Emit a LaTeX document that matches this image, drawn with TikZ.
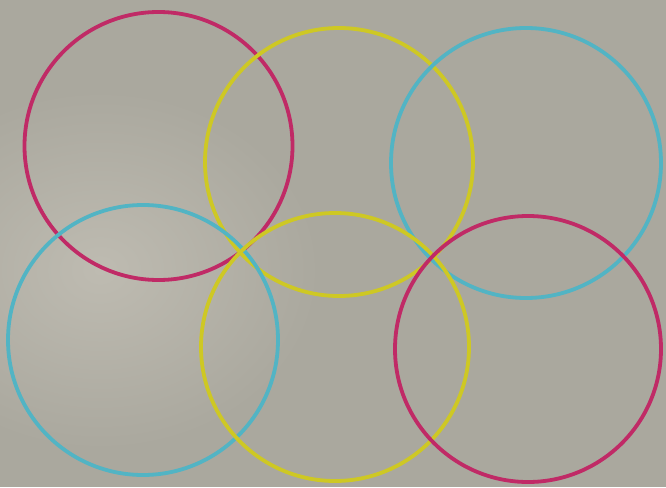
\documentclass[tikz,border=0pt]{standalone}
\definecolor{paper}{RGB}{170,168,158}
\definecolor{paperlight}{RGB}{190,187,177}
\definecolor{ringm}{RGB}{192,42,102}
\definecolor{ringy}{RGB}{206,200,36}
\definecolor{ringc}{RGB}{82,180,196}
\tikzset{ring/.style={line width=3.8pt}}
\begin{document}
\begin{tikzpicture}[x=1pt,y=-1pt]
\fill[paper] (0,0) rectangle (666,487);
\useasboundingbox (0,0) rectangle (666,487);
\shade[inner color=paperlight, outer color=paper] (100,270) ellipse (220 and 180);
\draw[ring,ringm] (158.5,146) circle (134);
\draw[ring,ringy] (339,162) circle (134);
\draw[ring,ringc] (526,163) circle (135);
\draw[ring,ringc] (143,340) circle (135);
\draw[ring,ringy] (335,347) circle (134);
\draw[ring,ringm] (528,349) circle (133);
\end{tikzpicture}
\end{document}
